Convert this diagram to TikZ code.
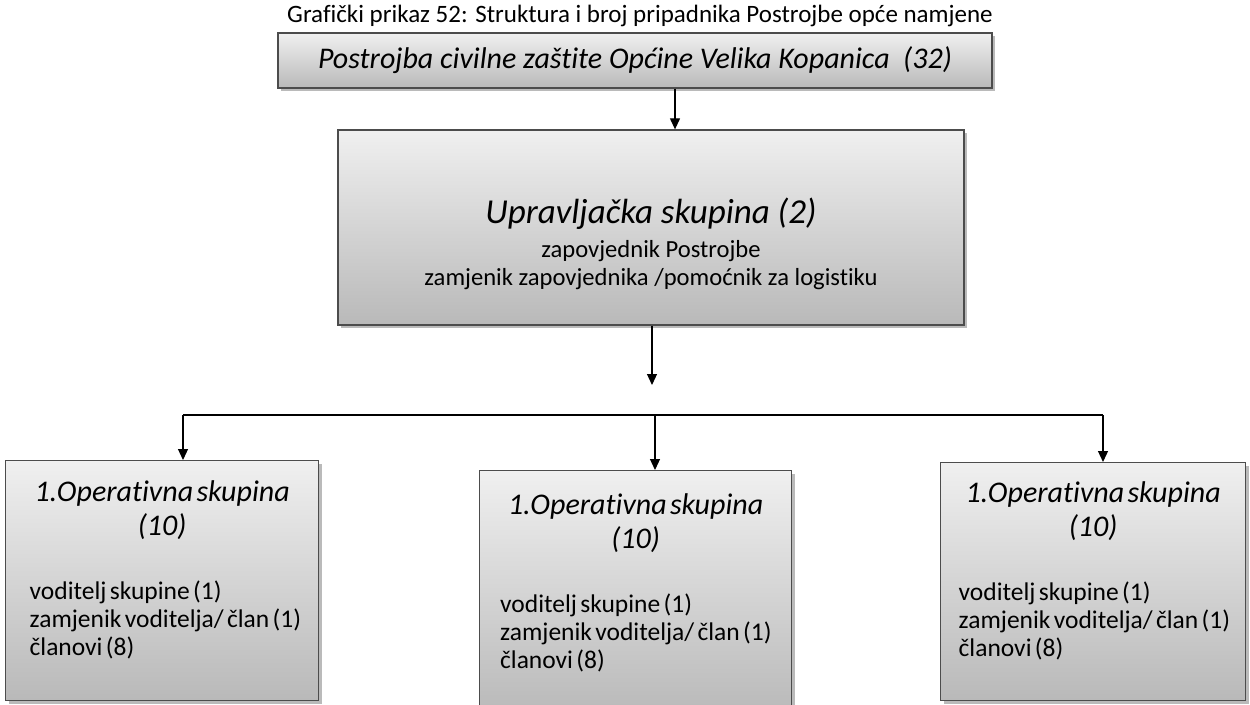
\documentclass[tikz,border=0pt]{standalone}
\usepackage{fontspec}
\setmainfont{Carlito}[Ligatures=NoCommon]
\usetikzlibrary{arrows.meta,shadows}

\tikzset{
  unit/.style={draw=black!70, line width=1.3pt, top color=gray!12, bottom color=gray!55,
    drop shadow={shadow xshift=3pt, shadow yshift=-3pt, opacity=0.45, fill=black!60},
    inner sep=0pt, text=black},
  opunit/.style={unit, text width=285pt, inner xsep=#1},
  arr/.style={draw, line width=1.2pt, -{Triangle[length=11pt,width=10pt]}},
}
\newcommand{\opitems}[1]{%
  {\centering\itshape\fontsize{30}{34}\selectfont 1.Operativna skupina\\(10)\par}
  \vspace{36pt}
  {\raggedright\leftskip=#1\fontsize{25.5}{28}\selectfont voditelj skupine (1)\\zamjenik voditelja/ član (1)\\članovi (8)\par}
  \vspace{21pt}}

\begin{document}
\begin{tikzpicture}[x=1pt,y=-1pt]
\useasboundingbox (0,0) rectangle (1250,704);
\node[font=\fontsize{25}{28}\selectfont] (title) at (640,16) {Grafički prikaz 52: Struktura i broj pripadnika Postrojbe opće namjene};

\node[unit, minimum width=714pt, minimum height=55pt, font=\itshape\fontsize{30}{34}\selectfont] (pcz) at (635,60.5) {Postrojba civilne zaštite Općine Velika Kopanica \ (32)};

\node[unit, minimum width=626pt, minimum height=195pt, text width=600pt, align=flush center,
  font=\fontsize{24.6}{28}\selectfont] (upr) at (651,227.5)
  {{\itshape\fontsize{35}{40}\selectfont\rule{0pt}{59pt}Upravljačka skupina (2)}\\[6pt]
   zapovjednik Postrojbe\\
   zamjenik zapovjednika /pomoćnik za logistiku};

\node[opunit=14pt, minimum height=240pt, anchor=north west] (op1) at (5,460) {\opitems{10pt}};
\node[opunit=13.5pt, minimum height=245pt, anchor=north west] (op2) at (479,470) {\opitems{7pt}};
\node[opunit=10pt, minimum height=238pt, anchor=north west] (op3) at (940,462) {\opitems{8pt}};

\coordinate (gap) at (652,385);
\coordinate (busL) at (183,415);
\coordinate (busM) at (655,415);
\coordinate (busR) at (1103,415);

\path[arr] ([xshift=40pt]pcz.south) -- ([xshift=40pt]pcz.south |- upr.north);
\path[arr] (upr.south -| gap) -- (gap);
\path[draw, line width=1.2pt] (busL) -- (busR);
\path[arr] (busL) -- (busL |- op1.north);
\path[arr] (busM) -- (busM |- op2.north);
\path[arr] (busR) -- (busR |- op3.north);
\end{tikzpicture}
\end{document}
